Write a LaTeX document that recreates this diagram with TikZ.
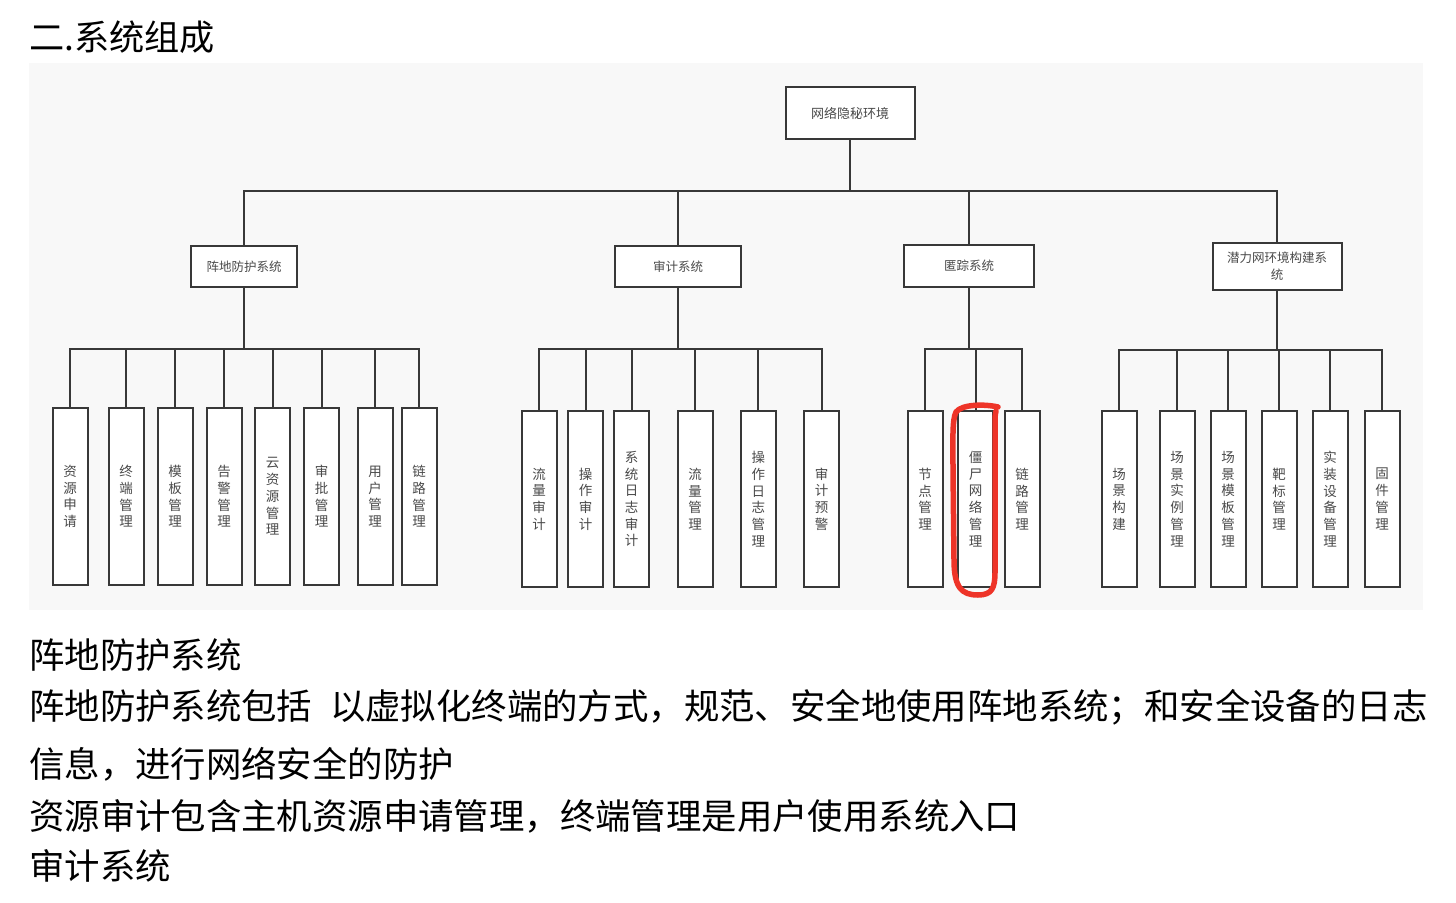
\documentclass[tikz,border=0pt]{standalone}
\usepackage{fontspec}
\setmainfont{Noto Sans CJK SC}
\definecolor{panelgray}{HTML}{F8F8F8}
\definecolor{boxline}{HTML}{383838}
\definecolor{boxtext}{HTML}{4A4A4A}
\definecolor{markred}{RGB}{238,52,40}
\tikzset{
  conn/.style={draw=boxline, line width=2pt},
  topbox/.style={draw=boxline, line width=2pt, fill=white, text=boxtext, inner sep=0pt,
    align=center, font=\fontsize{13}{17}\selectfont},
  leaf/.style={draw=boxline, line width=2pt, fill=white, text=boxtext, inner sep=0pt,
    minimum width=35pt, align=center, font=\fontsize{13.5}{16.7}\selectfont},
  leafA/.style={leaf, minimum height=177pt},
  leafB/.style={leaf, minimum height=176pt},
  hl/.style={draw=markred, line width=5.5pt, line cap=round, line join=round},
  bodytext/.style={anchor=base west, inner sep=0pt, font=\fontsize{35.4}{40}\selectfont}
}
\begin{document}
\begin{tikzpicture}[x=1pt,y=-1pt]
\useasboundingbox (0,0) rectangle (1456,902);
\fill[white] (0,0) rectangle (1456,902);
\fill[panelgray] (29,63) rectangle (1423,610);

% title
\node[bodytext, font=\fontsize{35.2}{40}\selectfont] (title) at (29,50) {二.系统组成};

% root
\node[topbox, minimum width=129pt, minimum height=52pt] (root) at (850,113) {网络隐秘环境};

% level 2
\node[topbox, minimum width=106pt, minimum height=41pt, font=\fontsize{12.5}{17}\selectfont] (zd) at (244,266.5) {阵地防护系统};
\node[topbox, minimum width=126pt, minimum height=41pt, font=\fontsize{12.5}{17}\selectfont] (sj) at (678,266.5) {审计系统};
\node[topbox, minimum width=130pt, minimum height=42pt, font=\fontsize{12.5}{17}\selectfont] (nz) at (969,266) {匿踪系统};
\node[topbox, minimum width=129pt, minimum height=47pt, font=\fontsize{12.5}{16.7}\selectfont] (ql) at (1277,266.5) {潜力网环境构建系\\统};

\coordinate (b0) at (850,191);
\draw[conn] (root.south) -- (b0);
\foreach \t in {zd,sj,nz,ql} { \draw[conn] (b0) -| (\t.north); }

% group 1 leaves
\node[leafA] (a1) at (70,496.5)  {资\\源\\申\\请};
\node[leafA] (a2) at (126,496.5) {终\\端\\管\\理};
\node[leafA] (a3) at (175,496.5) {模\\板\\管\\理};
\node[leafA] (a4) at (224,496.5) {告\\警\\管\\理};
\node[leafA] (a5) at (272.5,496.5) {云\\资\\源\\管\\理};
\node[leafA] (a6) at (321.5,496.5) {审\\批\\管\\理};
\node[leafA] (a7) at (375,496.5) {用\\户\\管\\理};
\node[leafA] (a8) at (419,496.5) {链\\路\\管\\理};

% group 2 leaves
\node[leafB] (s1) at (539,499)   {流\\量\\审\\计};
\node[leafB] (s2) at (585.5,499) {操\\作\\审\\计};
\node[leafB] (s3) at (631.7,499) {系\\统\\日\\志\\审\\计};
\node[leafB] (s4) at (695,499)   {流\\量\\管\\理};
\node[leafB] (s5) at (758.4,499) {操\\作\\日\\志\\管\\理};
\node[leafB] (s6) at (821.7,499) {审\\计\\预\\警};

% group 3 leaves
\node[leafB] (n1) at (925,499)   {节\\点\\管\\理};
\node[leafB] (n2) at (975.5,499) {僵\\尸\\网\\络\\管\\理};
\node[leafB] (n3) at (1022,499)  {链\\路\\管\\理};

% group 4 leaves
\node[leafB] (q1) at (1119,499) {场\\景\\构\\建};
\node[leafB] (q2) at (1177,499) {场\\景\\实\\例\\管\\理};
\node[leafB] (q3) at (1228,499) {场\\景\\模\\板\\管\\理};
\node[leafB] (q4) at (1279,499) {靶\\标\\管\\理};
\node[leafB] (q5) at (1330,499) {实\\装\\设\\备\\管\\理};
\node[leafB] (q6) at (1382,499) {固\\件\\管\\理};

% buses
\coordinate (ba) at (244,349);
\coordinate (bs) at (678,349);
\coordinate (bn) at (969,349);
\coordinate (bq) at (1277,350);
\draw[conn] (zd.south) -- (ba);
\draw[conn] (sj.south) -- (bs);
\draw[conn] (nz.south) -- (bn);
\draw[conn] (ql.south) -- (bq);
\foreach \t in {a1,a2,a3,a4,a5,a6,a7,a8} { \draw[conn] (ba) -| (\t.north); }
\foreach \t in {s1,s2,s3,s4,s5,s6} { \draw[conn] (bs) -| (\t.north); }
\foreach \t in {n1,n2,n3} { \draw[conn] (bn) -| (\t.north); }
\foreach \t in {q1,q2,q3,q4,q5,q6} { \draw[conn] (bq) -| (\t.north); }

% red hand-drawn highlight
\draw[hl] (998,407) .. controls (985,404) and (962,404) .. (956,412)
  .. controls (952,420) and (953,440) .. (953,470)
  -- (954,560) .. controls (954,588) and (962,595) .. (978,595)
  .. controls (992,595) and (995,588) .. (995,572)
  -- (995,425) .. controls (995,416) .. (996,411);

% body text
\node[bodytext] (p1) at (29,668) {阵地防护系统};
\node[bodytext] (p2) at (29,719) {阵地防护系统包括\hspace{0.5em}以虚拟化终端的方式，规范、安全地使用阵地系统；和安全设备的日志};
\node[bodytext] (p3) at (29,777) {信息，进行网络安全的防护};
\node[bodytext] (p4) at (29,829) {资源审计包含主机资源申请管理，终端管理是用户使用系统入口};
\node[bodytext] (p5) at (29,879) {审计系统};
\end{tikzpicture}
\end{document}
